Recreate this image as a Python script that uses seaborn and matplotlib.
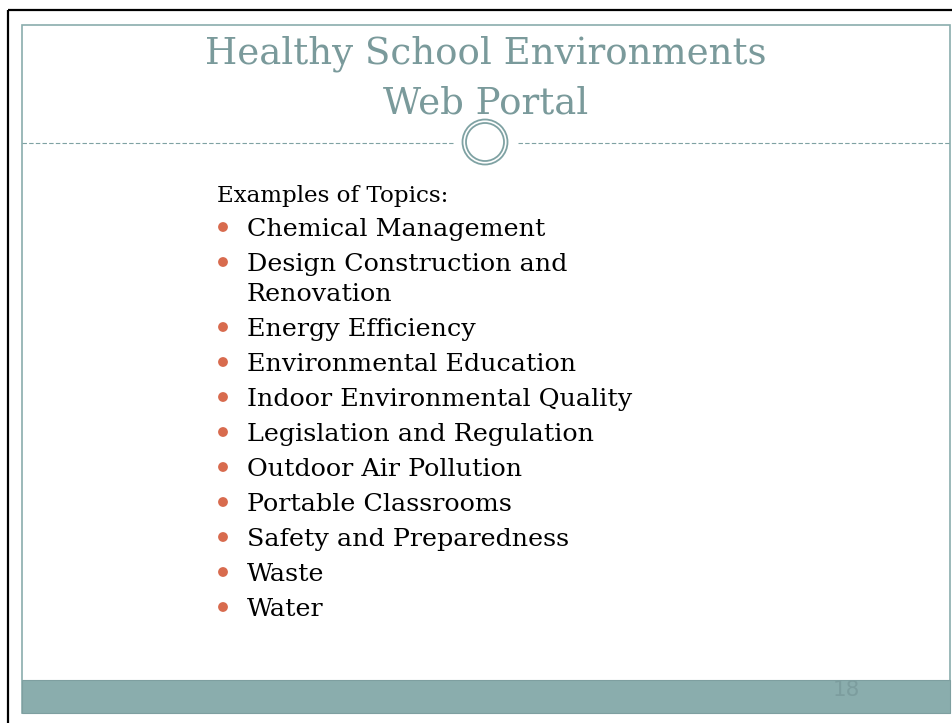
import matplotlib
matplotlib.use("Agg")
import matplotlib.pyplot as plt
import seaborn as sns
import pandas as pd
from matplotlib.patches import Circle, Rectangle

# Slide content
title_lines = ["Healthy School Environments", "Web Portal"]
intro = "Examples of Topics:"
topics = [
    "Chemical Management",
    "Design Construction and\nRenovation",
    "Energy Efficiency",
    "Environmental Education",
    "Indoor Environmental Quality",
    "Legislation and Regulation",
    "Outdoor Air Pollution",
    "Portable Classrooms",
    "Safety and Preparedness",
    "Waste",
    "Water",
]
page_number = "18"

TEAL = "#8AADAD"
TITLE_COLOR = "#7A9A9B"
BULLET_COLOR = "#D86B4E"

sns.set_theme(style="white")
plt.rcParams["font.family"] = ["DejaVu Serif"]

W, H = 952, 723
fig = plt.figure(figsize=(W / 100, H / 100), dpi=100)
ax = fig.add_axes([0, 0, 1, 1])
ax.set_xlim(0, W)
ax.set_ylim(H, 0)
ax.axis("off")

# Outer black frame (top and left)
ax.plot([8, W], [10, 10], color="black", lw=1.6, solid_capstyle="butt")
ax.plot([8, 8], [10, H], color="black", lw=1.6, solid_capstyle="butt")

# Slide border and footer band
ax.add_patch(Rectangle((22, 25), 928, 688, fill=False, edgecolor=TEAL, lw=1.2))
ax.add_patch(Rectangle((22, 680), 928, 33, facecolor=TEAL, edgecolor="#7E9FA0", lw=0.8))
ax.text(846, 690, page_number, fontsize=15.5, color="#7C9D9E", ha="center", va="center",
        family="DejaVu Sans")

# Title
ax.text(486, 63, title_lines[0], fontsize=26.7, color=TITLE_COLOR, ha="center", va="baseline")
ax.text(486, 113, title_lines[1], fontsize=26.7, color=TITLE_COLOR, ha="center", va="baseline")

# Dashed separator with double circle
ax.plot([22, 453], [142.5, 142.5], color="#7FA2A3", lw=0.8, ls=(0, (4, 2)))
ax.plot([518, 950], [142.5, 142.5], color="#7FA2A3", lw=0.8, ls=(0, (4, 2)))
ax.add_patch(Circle((485, 142), 22.5, fill=False, edgecolor="#7FA2A3", lw=1.3))
ax.add_patch(Circle((485, 142), 19, fill=False, edgecolor="#7FA2A3", lw=1.3))

# Body text
ax.text(217, 202, intro, fontsize=16.6, color="black", va="baseline")

bullet_rows = []
y = 236
for t in topics:
    lines = t.split("\n")
    bullet_rows.append({"x": 223, "y": y - 9, "topic": t})
    for k, line in enumerate(lines):
        ax.text(247, y + 30 * k, line, fontsize=18.3, color="black", va="baseline")
    y += 30 * (len(lines) - 1) + 35

bullets = pd.DataFrame(bullet_rows)
sns.scatterplot(data=bullets, x="x", y="y", ax=ax, color=BULLET_COLOR, s=50,
                edgecolor="none", legend=False)

fig.savefig("out.png", dpi=100)
